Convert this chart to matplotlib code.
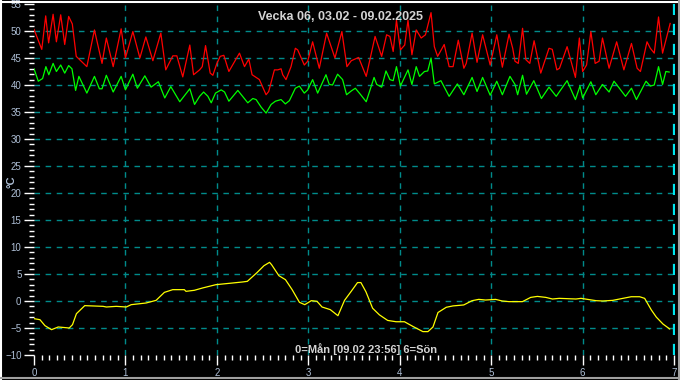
import matplotlib
matplotlib.use("Agg")
import matplotlib.pyplot as plt
from matplotlib.ticker import MultipleLocator
from matplotlib.lines import Line2D

# Week data, x in days (0=Monday), values in degrees C
red_x = [0.000, 0.085, 0.128, 0.160, 0.209, 0.245, 0.292, 0.336, 0.379, 0.419,
         0.462, 0.578, 0.661, 0.744, 0.791, 0.866, 0.953, 1.000, 1.081, 1.158,
         1.223, 1.300, 1.387, 1.441, 1.518, 1.562, 1.627, 1.704, 1.745, 1.811,
         1.840, 1.876, 1.927, 1.956, 2.000, 2.036, 2.076, 2.131, 2.247, 2.302,
         2.349, 2.385, 2.465, 2.538, 2.567, 2.629, 2.665, 2.702, 2.720, 2.756,
         2.811, 2.858, 2.884, 2.956, 2.993, 3.047, 3.120, 3.200, 3.291, 3.367,
         3.422, 3.470, 3.550, 3.633, 3.730, 3.802, 3.856, 3.892, 3.928, 3.964,
         4.007, 4.054, 4.090, 4.133, 4.180, 4.234, 4.281, 4.342, 4.378, 4.414,
         4.486, 4.540, 4.583, 4.640, 4.701, 4.727, 4.791, 4.845, 4.906, 4.989,
         5.061, 5.122, 5.195, 5.235, 5.260, 5.296, 5.343, 5.379, 5.422, 5.469,
         5.542, 5.632, 5.668, 5.718, 5.747, 5.830, 5.921, 5.964, 6.000, 6.043,
         6.090, 6.137, 6.180, 6.217, 6.289, 6.372, 6.451, 6.534, 6.596, 6.632,
         6.704, 6.740, 6.783, 6.830, 6.874, 6.957]
red_y = [50.3, 46.6, 52.8, 47.8, 53.1, 48.0, 53.0, 47.5, 52.7, 51.3,
         45.3, 43.4, 50.2, 44.0, 48.7, 43.4, 50.4, 45.0, 49.9, 45.0,
         48.9, 44.5, 49.6, 42.8, 45.4, 45.4, 41.5, 47.4, 41.9, 42.8,
         43.4, 47.3, 42.2, 41.8, 44.0, 45.3, 45.5, 42.5, 45.9, 43.4,
         44.8, 41.9, 41.0, 38.2, 38.8, 42.8, 42.8, 43.0, 41.9, 41.0,
         43.4, 46.8, 46.5, 43.7, 44.4, 48.0, 43.1, 49.6, 45.0, 49.9,
         43.4, 44.5, 45.1, 41.6, 49.0, 45.3, 49.3, 49.0, 46.2, 52.0,
         46.5, 47.4, 52.0, 45.6, 50.2, 48.7, 49.3, 53.4, 47.1, 45.3,
         47.5, 43.4, 43.4, 48.3, 43.1, 44.0, 49.6, 44.2, 49.3, 43.7,
         49.3, 43.3, 49.4, 46.8, 44.4, 44.0, 50.5, 44.7, 44.0, 48.2,
         42.2, 46.8, 46.6, 42.8, 43.1, 47.1, 41.4, 48.7, 42.5, 43.7,
         49.9, 44.0, 44.4, 48.7, 43.1, 48.0, 42.8, 47.7, 43.1, 42.5,
         48.0, 46.8, 45.9, 52.6, 45.9, 51.4]

green_x = [0.000, 0.047, 0.094, 0.130, 0.162, 0.209, 0.245, 0.292, 0.336, 0.379,
           0.415, 0.455, 0.491, 0.578, 0.661, 0.715, 0.744, 0.791, 0.866, 0.953,
           1.000, 1.081, 1.130, 1.212, 1.280, 1.360, 1.430, 1.496, 1.594, 1.704,
           1.756, 1.811, 1.855, 1.902, 1.938, 1.985, 2.047, 2.084, 2.131, 2.229,
           2.338, 2.393, 2.429, 2.484, 2.538, 2.593, 2.640, 2.702, 2.749, 2.793,
           2.858, 2.902, 2.956, 2.993, 3.047, 3.102, 3.193, 3.229, 3.265, 3.320,
           3.375, 3.418, 3.470, 3.514, 3.568, 3.633, 3.719, 3.748, 3.802, 3.849,
           3.892, 3.928, 3.964, 4.007, 4.090, 4.133, 4.180, 4.216, 4.270, 4.306,
           4.342, 4.378, 4.450, 4.540, 4.630, 4.701, 4.791, 4.845, 4.906, 4.989,
           5.061, 5.122, 5.205, 5.260, 5.289, 5.343, 5.386, 5.466, 5.549, 5.632,
           5.711, 5.830, 5.921, 5.971, 6.000, 6.090, 6.144, 6.217, 6.289, 6.343,
           6.469, 6.534, 6.588, 6.693, 6.740, 6.783, 6.830, 6.874, 6.910, 6.946]
green_y = [43.0, 40.7, 41.2, 43.4, 41.9, 44.0, 42.5, 43.7, 42.2, 43.6,
           43.0, 39.0, 41.6, 38.5, 41.6, 39.3, 39.3, 41.8, 38.7, 41.6,
           39.1, 42.0, 39.4, 41.7, 39.6, 40.6, 37.6, 39.7, 36.9, 39.3,
           36.4, 37.9, 38.7, 37.9, 36.7, 38.5, 39.1, 38.7, 37.0, 39.0,
           36.7, 37.5, 37.3, 35.9, 34.8, 36.4, 37.0, 37.3, 36.5, 37.1,
           39.4, 39.8, 38.5, 39.1, 41.0, 38.5, 41.9, 40.1, 40.0, 42.0,
           41.0, 38.2, 38.9, 39.4, 38.3, 36.9, 41.4, 40.1, 39.6, 42.6,
           41.0, 40.8, 43.4, 39.8, 42.8, 40.1, 43.4, 41.6, 42.5, 42.6,
           45.0, 40.2, 40.8, 37.9, 40.2, 38.2, 41.4, 38.8, 41.4, 38.1,
           40.7, 38.2, 41.6, 40.1, 38.2, 41.8, 38.3, 40.8, 37.5, 39.6,
           37.9, 40.8, 37.3, 39.8, 37.6, 40.6, 38.2, 40.1, 38.7, 40.7,
           37.9, 39.4, 37.3, 40.7, 39.8, 40.0, 43.4, 40.1, 42.5, 42.4]

yellow_x = [0.000, 0.065, 0.120, 0.192, 0.265, 0.385, 0.421, 0.464, 0.555, 0.755,
            0.791, 0.900, 1.009, 1.063, 1.226, 1.335, 1.426, 1.517, 1.644, 1.662,
            1.753, 1.843, 1.988, 2.170, 2.279, 2.333, 2.442, 2.515, 2.576, 2.598,
            2.678, 2.750, 2.823, 2.903, 2.961, 3.033, 3.095, 3.150, 3.240, 3.324,
            3.396, 3.469, 3.538, 3.575, 3.630, 3.703, 3.777, 3.868, 3.960, 4.051,
            4.143, 4.253, 4.308, 4.363, 4.418, 4.509, 4.582, 4.700, 4.791, 4.864,
            4.938, 5.048, 5.121, 5.194, 5.341, 5.432, 5.505, 5.597, 5.670, 5.744,
            5.927, 5.982, 6.147, 6.220, 6.330, 6.440, 6.531, 6.623, 6.678, 6.751,
            6.806, 6.879, 6.952]
yellow_y = [-3.27, -3.46, -4.57, -5.31, -4.81, -5.00, -4.38, -2.35, -0.86, -0.99,
            -1.11, -0.99, -1.11, -0.68, -0.37, 0.12, 1.60, 2.10, 2.10, 1.79,
            1.98, 2.41, 3.02, 3.33, 3.52, 3.64, 5.31, 6.54, 7.16, 6.73,
            4.69, 3.95, 2.10, -0.25, -0.68, 0.06, -0.06, -1.11, -1.60, -2.72,
            0.12, 1.79, 3.41, 3.41, 1.71, -1.34, -2.56, -3.60, -3.84, -3.84,
            -4.70, -5.67, -5.67, -4.82, -2.13, -1.16, -0.91, -0.73, 0.06, 0.30,
            0.18, 0.30, 0.00, -0.12, -0.12, 0.67, 0.85, 0.67, 0.37, 0.49,
            0.37, 0.49, 0.06, 0.00, 0.12, 0.49, 0.79, 0.79, 0.49, -1.65,
            -2.99, -4.27, -5.18]

title = "Vecka 06, 03.02 - 09.02.2025"
footer = "0=Mån [09.02 23:56] 6=Sön"
ylabel = "°C"

label_col = "#aebfd6"
text_col = "#d4d4d4"
grid_col = "#008b8b"

plt.rcParams["font.family"] = ["Liberation Sans", "DejaVu Sans"]

fig = plt.figure(figsize=(6.8, 3.8), dpi=100, facecolor="black")
ax = fig.add_axes([34 / 680, 1 - 355 / 380, 641 / 680, 351 / 380])
ax.set_facecolor("black")

# grid lines
for yv in range(-5, 55, 5):
    ax.axhline(yv, color=grid_col, lw=1, ls=(0, (4, 4)), zorder=1)
for xv in range(1, 7):
    ax.axvline(xv, color=grid_col, lw=1, ls=(0, (4, 4)), zorder=1)
ax.axvline(7, color="#00e5ee", lw=1.6, ls=(0, (5, 4)), zorder=1)

# series
ax.plot(red_x, red_y, color="#ff0000", lw=0.9, zorder=3)
ax.plot(green_x, green_y, color="#00ff00", lw=0.9, zorder=3)
ax.plot(yellow_x, yellow_y, color="#ffff00", lw=0.9, zorder=3)

ax.set_xlim(0, 7.01)
ax.set_ylim(-10, 55)

for s in ax.spines.values():
    s.set_visible(False)

ax.xaxis.set_major_locator(MultipleLocator(1))
ax.xaxis.set_minor_locator(MultipleLocator(1 / 12))
ax.yaxis.set_major_locator(MultipleLocator(5))
ax.yaxis.set_minor_locator(MultipleLocator(1))
ax.tick_params(axis="both", which="major", colors="white", labelcolor=label_col,
               labelsize=7, length=7, width=1, direction="out", pad=2)
ax.tick_params(axis="both", which="minor", colors="white", length=3.5, width=1,
               direction="out")

# axis label and texts placed in figure pixels
fig.text(11 / 680, 1 - 182 / 380, ylabel, color=label_col, fontsize=8,
         fontweight="bold", rotation=90, ha="center", va="center")
fig.text(341 / 680, 1 - 17 / 380, title, color=text_col, fontsize=9,
         fontweight="bold", ha="center", va="center")
fig.text(366 / 680, 1 - 349 / 380, footer, color=text_col, fontsize=8,
         fontweight="bold", ha="center", va="center")

# sunken window frame
fig.add_artist(Line2D([0.5 / 680, 0.5 / 680], [0, 1], color="white", lw=1.5))
fig.add_artist(Line2D([0, 1], [1 - 1.5 / 380, 1 - 1.5 / 380], color="white", lw=1.5))
fig.add_artist(Line2D([0, 1], [2.5 / 380, 2.5 / 380], color="#a0a0a0", lw=1.5))
fig.add_artist(Line2D([1 - 1 / 680, 1 - 1 / 680], [0, 1], color="#a0a0a0", lw=1.5))

fig.savefig("out.png", dpi=100, facecolor="black")
plt.close(fig)
